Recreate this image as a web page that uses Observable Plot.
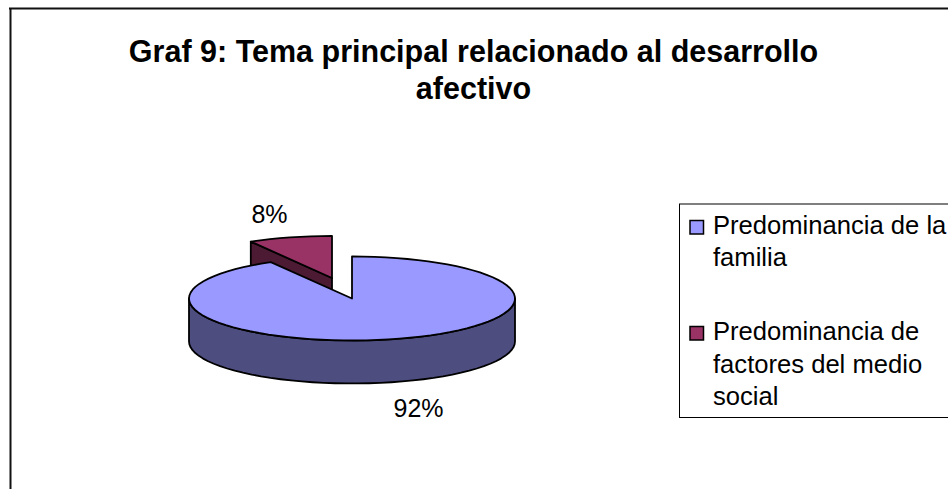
<!DOCTYPE html>
<html><head><meta charset="utf-8">
<style>html,body{margin:0;padding:0;background:#fff}svg{display:block}</style>
<script src="https://cdn.jsdelivr.net/npm/d3@7"></script>
<script src="https://cdn.jsdelivr.net/npm/@observablehq/plot@0.6"></script>
</head><body><script>
const categories = ["Predominancia de la familia", "Predominancia de factores del medio social"];
const shares = [91.7, 8.3];
const shareLabels = ["92%", "8%"];
const titleLines = ["Graf 9: Tema principal relacionado al desarrollo", "afectivo"];
const legendLines = [["Predominancia de la", "familia"], ["Predominancia de", "factores del medio", "social"]];
const topColors = ["#9999FF", "#993366"];
const sideColors = ["#4D4D80", "#4D1A33"];

// layout
const W = 948, H = 489;
const RX = 163, RY = 42, DEPTH = 43;
const centers = [[351.5, 298], [331.5, 277.5]];
const font = "'Liberation Sans', Arial, sans-serif";

const total = d3.sum(shares);
const pt = (c, deg, drop = 0) => {
  const a = deg * Math.PI / 180;
  return {x: c[0] + RX * Math.sin(a), y: c[1] - RY * Math.cos(a) + drop};
};
const arc = (c, a0, a1, drop = 0) => {
  const n = Math.max(2, Math.ceil(Math.abs(a1 - a0) / 4));
  return d3.range(n + 1).map(i => pt(c, a0 + (a1 - a0) * i / n, drop));
};
const mainEnd = shares[0] / total * 360;
const poly = (points, fill, k) => points.concat(points[0]).map(p => ({...p, k, fill}));

const shapes = [
  // cut face of the small slice
  poly([{x: centers[1][0], y: centers[1][1]}, pt(centers[1], mainEnd),
        pt(centers[1], mainEnd, DEPTH), {x: centers[1][0], y: centers[1][1] + DEPTH}], sideColors[1], "a"),
  // top of the small slice
  poly([{x: centers[1][0], y: centers[1][1]}, ...arc(centers[1], mainEnd, 360)], topColors[1], "b"),
  // outer wall of the big slice
  poly([...arc(centers[0], 90, 270), ...arc(centers[0], 270, 90, DEPTH)], sideColors[0], "c"),
  // top of the big slice
  poly([{x: centers[0][0], y: centers[0][1]}, ...arc(centers[0], 0, mainEnd)], topColors[0], "d")
];

const shapeMarks = shapes.map(s => Plot.line(s, {
  x: "x", y: "y", fill: s[0].fill, stroke: "#000", strokeWidth: 1.8, strokeLinejoin: "round", curve: "linear"
}));

const lineRows = legendLines.flatMap((ls, i) => ls.map((t, j) => ({t, i, j})));
const legendBaselines = [[233, 265], [339, 372, 404]];

const chart = Plot.plot({
  width: W, height: H, margin: 0,
  style: {background: "#fff", fontFamily: font},
  x: {domain: [0, W], range: [0, W], axis: null},
  y: {domain: [0, H], range: [0, H], axis: null},
  marks: [
    Plot.ruleY([8], {x1: 9, x2: W, stroke: "#111", strokeWidth: 2}),
    Plot.ruleX([10], {y1: 8, y2: H, stroke: "#111", strokeWidth: 2}),
    Plot.text(titleLines, {
      x: [473, 473], y: [52, 89], text: d => d, fontSize: 30.5, fontWeight: "bold", fill: "#000", fontFamily: font
    }),
    ...shapeMarks,
    Plot.text(shareLabels, {
      x: [418, 269], y: [408.5, 214], text: d => d, fontSize: 25, fill: "#000", fontFamily: font
    }),
    Plot.rect([0], {x1: 679.5, x2: W + 5, y1: 204, y2: 417.5, fill: "none", stroke: "#000", strokeWidth: 1}),
    Plot.rect(categories, {
      x1: [690, 690], x2: [703.5, 703.5], y1: [220.5, 326.5], y2: [234, 340],
      fill: (d, i) => topColors[i], stroke: "#000", strokeWidth: 1.5
    }),
    Plot.text(lineRows, {
      x: 712.5, y: d => legendBaselines[d.i][d.j] - 7.5, text: "t", textAnchor: "start",
      fontSize: 25.6, fill: "#000", fontFamily: font
    })
  ]
});
document.body.append(chart);
</script></body></html>
